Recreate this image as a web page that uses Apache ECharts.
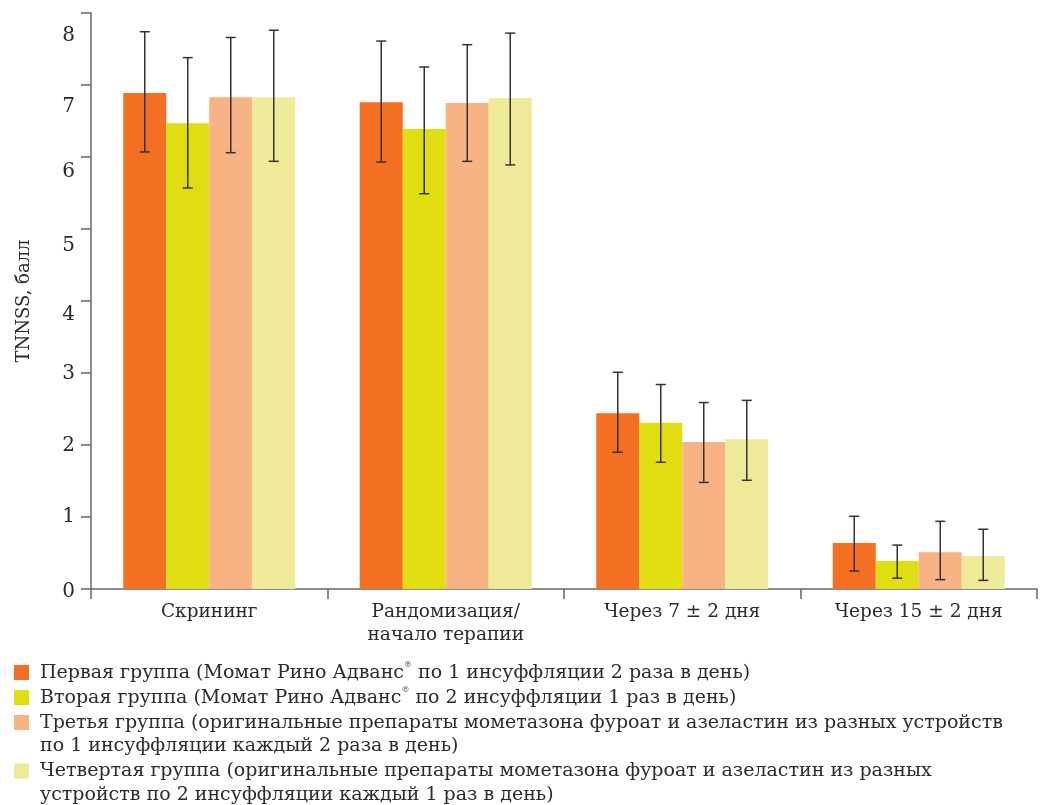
<!DOCTYPE html>
<html>
<head>
<meta charset="utf-8">
<script src="https://cdn.jsdelivr.net/npm/echarts@6/dist/echarts.min.js"></script>
<style>
  html, body { margin: 0; padding: 0; background: #fff; }
  #chart { width: 1043px; height: 805px; }
</style>
</head>
<body>
<div id="chart"></div>
<script>
// категории по оси X
var categories = ["Скрининг", "Рандомизация/\nначало терапии", "Через 7 ± 2 дня", "Через 15 ± 2 дня"];

// средние значения TNNSS по группам
var group1 = [6.89, 6.76, 2.44, 0.64];
var group2 = [6.47, 6.39, 2.31, 0.39];
var group3 = [6.83, 6.75, 2.04, 0.51];
var group4 = [6.83, 6.82, 2.08, 0.46];

// границы разброса (верх / низ)
var group1Hi = [7.74, 7.61, 3.01, 1.01];
var group1Lo = [6.07, 5.93, 1.90, 0.25];
var group2Hi = [7.38, 7.25, 2.84, 0.61];
var group2Lo = [5.57, 5.49, 1.76, 0.15];
var group3Hi = [7.66, 7.56, 2.59, 0.94];
var group3Lo = [6.06, 5.94, 1.48, 0.13];
var group4Hi = [7.76, 7.72, 2.62, 0.83];
var group4Lo = [5.94, 5.89, 1.51, 0.12];

var yTicks = [0, 1, 2, 3, 4, 5, 6, 7, 8];

var colors = ["#F36F21", "#E0DD10", "#F8B384", "#EEEA99"];
var legendLines = [
  ["Первая группа (Момат Рино Адванс{sup|®} по 1 инсуффляции 2 раза в день)"],
  ["Вторая группа (Момат Рино Адванс{sup|®} по 2 инсуффляции 1 раз в день)"],
  ["Третья группа (оригинальные препараты мометазона фуроат и азеластин из разных устройств", "по 1 инсуффляции каждый 2 раза в день)"],
  ["Четвертая группа (оригинальные препараты мометазона фуроат и азеластин из разных", "устройств по 2 инсуффляции каждый 1 раз в день)"]
];

var means = [group1, group2, group3, group4];
var his = [group1Hi, group2Hi, group3Hi, group4Hi];
var los = [group1Lo, group2Lo, group3Lo, group4Lo];

var font = "'DejaVu Serif', 'Liberation Serif', serif";
var barW = 43;
// в оригинале подписи верхних делений сдвинуты вниз
var labelShift = [3, 0, 1, 1, 14, 17, 15, 22, 23];

var myChart = echarts.init(document.getElementById("chart"));

var series = [];
means.forEach(function (m, i) {
  series.push({
    name: "g" + (i + 1),
    type: "bar",
    data: m,
    barWidth: barW,
    barGap: "0%",
    itemStyle: { color: colors[i] },
    z: 2
  });
});

// усы погрешностей
means.forEach(function (m, i) {
  series.push({
    type: "custom",
    z: 5,
    data: m.map(function (v, k) { return [k, los[i][k], his[i][k]]; }),
    renderItem: function (params, api) {
      var off = (i - 1.5) * barW;
      var top = api.coord([api.value(0), api.value(2)]);
      var bot = api.coord([api.value(0), api.value(1)]);
      var x = top[0] + off;
      var cap = 5;
      var st = { stroke: "#333", lineWidth: 1.5 };
      return {
        type: "group",
        children: [
          { type: "line", shape: { x1: x, y1: top[1], x2: x, y2: bot[1] }, style: st },
          { type: "line", shape: { x1: x - cap, y1: top[1], x2: x + cap, y2: top[1] }, style: st },
          { type: "line", shape: { x1: x - cap, y1: bot[1], x2: x + cap, y2: bot[1] }, style: st }
        ]
      };
    }
  });
});

// легенда: квадрат + текст
var graphics = [];
var lh = 23.5;
var y = 661;
legendLines.forEach(function (lines, i) {
  graphics.push({
    type: "rect",
    left: 14, top: y + 4,
    shape: { width: 15, height: 15 },
    style: { fill: colors[i] }
  });
  graphics.push({
    type: "text",
    left: 40, top: y,
    style: {
      text: lines.join("\n"),
      font: "19px " + font,
      fill: "#2b2b2b",
      lineHeight: lh,
      rich: { sup: { fontSize: 8, fontFamily: "DejaVu Serif", verticalAlign: "top", padding: [0, 0, 8, 0] } }
    }
  });
  y += lines.length * lh + 1.5;
});

var yRich = {};
yTicks.forEach(function (t) {
  yRich["t" + t] = { color: "#2b2b2b", fontFamily: font, fontSize: 20, padding: [labelShift[t] * 2, 0, 0, 0] };
});

var option = {
  animation: false,
  grid: { left: 91, right: 6, top: 13, bottom: 216 },
  xAxis: {
    type: "category",
    data: categories,
    axisLine: { lineStyle: { color: "#666", width: 1.5 } },
    axisTick: { show: true, length: 10, lineStyle: { color: "#666", width: 1.5 } },
    axisLabel: { color: "#2b2b2b", fontFamily: font, fontSize: 18.5, margin: 12, lineHeight: 23 }
  },
  yAxis: {
    type: "value",
    min: yTicks[0],
    max: yTicks[yTicks.length - 1],
    interval: 1,
    name: "TNNSS, балл",
    nameLocation: "middle",
    nameGap: 58,
    nameTextStyle: { color: "#2b2b2b", fontFamily: font, fontSize: 18 },
    axisLine: { show: true, lineStyle: { color: "#666", width: 1.5 } },
    axisTick: { show: true, length: 10, lineStyle: { color: "#666", width: 1.5 } },
    axisLabel: {
      margin: 16,
      formatter: function (v) { return "{t" + v + "|" + v + "}"; },
      rich: yRich
    },
    splitLine: { show: false }
  },
  series: series,
  graphic: graphics
};

myChart.setOption(option);
</script>
</body>
</html>
